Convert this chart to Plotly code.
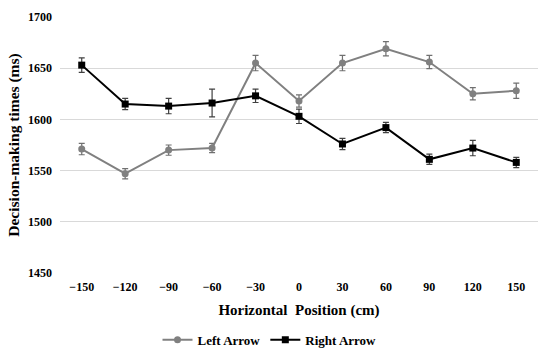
import plotly.graph_objects as go

positions = ["−150", "−120", "−90", "−60", "−30", "0", "30", "60", "90", "120", "150"]
left_arrow = [1571, 1547, 1570, 1572, 1655, 1618, 1655, 1669, 1656, 1625, 1628]
left_err = [5.5, 5, 5, 4.5, 7.5, 6, 7.5, 7, 6.5, 6, 7.5]
right_arrow = [1653, 1615, 1613, 1616, 1623, 1603, 1576, 1592, 1561, 1572, 1558]
right_err = [7, 5.5, 7.5, 13.5, 6.5, 7, 5.5, 5, 5, 7.5, 5]

serif = "Liberation Serif"
fig = go.Figure()
fig.add_trace(go.Scatter(
    x=positions, y=left_arrow, name="Left Arrow", mode="lines+markers",
    line=dict(color="#808080", width=2),
    marker=dict(symbol="circle", size=7, color="#808080"),
    error_y=dict(type="data", array=left_err, color="#707070", thickness=1.2, width=3),
))
fig.add_trace(go.Scatter(
    x=positions, y=right_arrow, name="Right Arrow", mode="lines+markers",
    line=dict(color="#000000", width=2),
    marker=dict(symbol="square", size=7, color="#000000"),
    error_y=dict(type="data", array=right_err, color="#404040", thickness=1.2, width=3),
))
fig.update_layout(
    width=550, height=352,
    margin=dict(l=60, r=12, t=17, b=79, autoexpand=False),
    paper_bgcolor="white", plot_bgcolor="white",
    font=dict(family=serif, size=12, color="black"),
    showlegend=True,
    legend=dict(orientation="h", xref="container", yref="container",
                x=0.49, xanchor="center", y=0.035, yanchor="middle",
                font=dict(family=serif, size=13, color="black", weight="bold")),
    xaxis=dict(type="category", categoryorder="array", categoryarray=positions,
               range=[-0.5, 10.5], showgrid=False, zeroline=False, showline=False,
               ticks="", automargin=False, ticklabelstandoff=5,
               tickfont=dict(family=serif, size=12, weight="bold"),
               title=dict(text="Horizontal  Position (cm)", standoff=11,
                          font=dict(family=serif, size=15, weight="bold"))),
    yaxis=dict(range=[1450, 1700], dtick=50, showgrid=True, gridcolor="#d9d9d9",
               gridwidth=1, zeroline=False, showline=False, ticks="", automargin=False,
               ticklabelstandoff=7,
               tickfont=dict(family=serif, size=12, weight="bold"),
               title=dict(text="Decision-making times (ms)", standoff=4,
                          font=dict(family=serif, size=15.5, weight="bold"))),
)
fig.write_html("out.html", config={"displayModeBar": False},
               post_script="document.body.style.margin='0';")
